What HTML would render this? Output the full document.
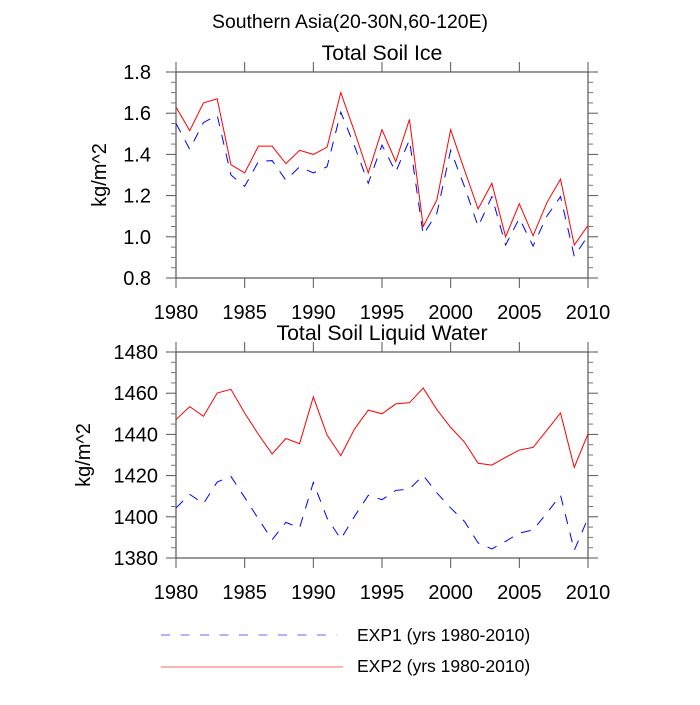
<!DOCTYPE html>
<html><head><meta charset="utf-8"><style>
html,body{margin:0;padding:0;background:#fff}
svg text{font-family:"Liberation Sans",sans-serif;fill:#000}
</style></head><body>
<svg id="chart" width="700" height="700" viewBox="0 0 700 700">
<text x="350" y="28" font-size="19.4" text-anchor="middle">Southern Asia(20-30N,60-120E)</text>
<g id="plots"></g>
<g>
<line x1="161" y1="635" x2="337" y2="635" stroke="#00f" stroke-width="1" stroke-dasharray="9,10.5" stroke-opacity="0.6"/>
<text x="357" y="641" font-size="17.5">EXP1 (yrs 1980-2010)</text>
<line x1="161" y1="667" x2="343" y2="667" stroke="#f00" stroke-width="1" stroke-opacity="0.6"/>
<text x="357" y="672" font-size="17.5">EXP2 (yrs 1980-2010)</text>
</g>
</svg>
<script>
const years = [];
for (let y = 1980; y <= 2010; y++) years.push(y);
const xTicks = [1980,1985,1990,1995,2000,2005,2010];
const iceExp2 = [1.63,1.515,1.65,1.67,1.35,1.31,1.44,1.44,1.355,1.42,1.40,1.435,1.70,1.51,1.31,1.52,1.365,1.57,1.05,1.18,1.52,1.325,1.135,1.26,1.0,1.16,1.005,1.165,1.28,0.96,1.055];
const iceExp1 = [1.55,1.425,1.555,1.59,1.30,1.245,1.365,1.37,1.275,1.34,1.31,1.34,1.605,1.44,1.26,1.445,1.315,1.47,1.01,1.115,1.42,1.245,1.05,1.195,0.96,1.09,0.955,1.10,1.195,0.905,1.005];
const iceTicks = [0.8,1.0,1.2,1.4,1.6,1.8];
const iceTickLabels = ["0.8","1.0","1.2","1.4","1.6","1.8"];
const liqExp2 = [1447.2,1453.5,1448.8,1460.1,1461.9,1450.4,1440,1430.5,1438,1435.5,1458.2,1439.7,1429.7,1442.6,1451.8,1450,1454.8,1455.4,1462.5,1452,1443.4,1436.3,1426,1425.1,1428.9,1432.4,1433.7,1442,1450.4,1424,1440.2];
const liqExp1 = [1404.3,1410.9,1406.4,1416.9,1419.6,1409.4,1399,1388.9,1397.3,1394.6,1416.7,1399.4,1389.2,1400.2,1410.4,1408.3,1412.8,1413.5,1420.1,1411.6,1404.3,1397.8,1387.3,1384.4,1388.1,1392.1,1393.6,1401.8,1410.4,1383.7,1399.4];
const liqTicks = [1380,1400,1420,1440,1460,1480];
const liqTickLabels = ["1380","1400","1420","1440","1460","1480"];

const NS = "http://www.w3.org/2000/svg";
const root = document.getElementById("plots");
function mk(tag, attrs, parent){const e=document.createElementNS(NS,tag);for(const k in attrs)e.setAttribute(k,attrs[k]);(parent||root).appendChild(e);return e;}

function panel(cfg){
  const L=176,R=588,T=cfg.top,B=cfg.top+206;
  const g=mk("g",{});
  
  
  const xs=v=>L+(v-1980)/30*(R-L);
  const ys=v=>B-(v-cfg.min)/(cfg.max-cfg.min)*(B-T);
  const frame=mk("rect",{x:L,y:T,width:R-L,height:B-T,fill:"none",stroke:"#555","stroke-width":1.2},g);
  
  
  xTicks.forEach(t=>{
    const x=xs(t);
    mk("line",{x1:x,y1:B,x2:x,y2:B+10,stroke:"#555"},g);
    mk("line",{x1:x,y1:T,x2:x,y2:T-10,stroke:"#555"},g);
    const tx=mk("text",{x:x,y:B+41,"font-size":20,"text-anchor":"middle"},g);
    tx.textContent=t;
    
    
  });
  const step=cfg.ticks[1]-cfg.ticks[0];
  cfg.ticks.forEach((t,i)=>{
    const y=ys(t);
    mk("line",{x1:L,y1:y,x2:L-10,y2:y,stroke:"#555"},g);
    mk("line",{x1:R,y1:y,x2:R+10,y2:y,stroke:"#555"},g);
    if(i<cfg.ticks.length-1){
      for(let m=1;m<4;m++){
        const ym=ys(t+step*m/4);
        mk("line",{x1:L,y1:ym,x2:L-5,y2:ym,stroke:"#777"},g);
        mk("line",{x1:R,y1:ym,x2:R+5,y2:ym,stroke:"#777"},g);
      }
    }
    const tx=mk("text",{x:cfg.labelX,y:y+7,"font-size":20,"text-anchor":"end"},g);
    tx.textContent=cfg.labels[i];
    
    
  });
  const st=mk("text",{x:382,y:T-12,"font-size":21.3,"text-anchor":"middle"},g);
  st.textContent=cfg.title;
  
  
  const yt=mk("text",{x:0,y:0,"font-size":20,"text-anchor":"middle",transform:`translate(${cfg.ytX},${(T+B)/2}) rotate(-90)`},g);
  yt.textContent="kg/m^2";
  
  
  const p1=mk("polyline",{points:years.map((yr,i)=>xs(yr)+","+ys(cfg.e1[i])).join(" "),fill:"none",stroke:"#00f","stroke-width":1,"stroke-dasharray":"10,9"},g);
  
  
  const p2=mk("polyline",{points:years.map((yr,i)=>xs(yr)+","+ys(cfg.e2[i])).join(" "),fill:"none",stroke:"#f00","stroke-width":1},g);
  
  
}
panel({name:"ice-panel",top:72,min:0.8,max:1.8,ticks:iceTicks,labels:iceTickLabels,e1:iceExp1,e2:iceExp2,title:"Total Soil Ice",ytX:106,labelX:151});
panel({name:"liquid-panel",top:352,min:1380,max:1480,ticks:liqTicks,labels:liqTickLabels,e1:liqExp1,e2:liqExp2,title:"Total Soil Liquid Water",ytX:90,labelX:158});
</script>
</body></html>
